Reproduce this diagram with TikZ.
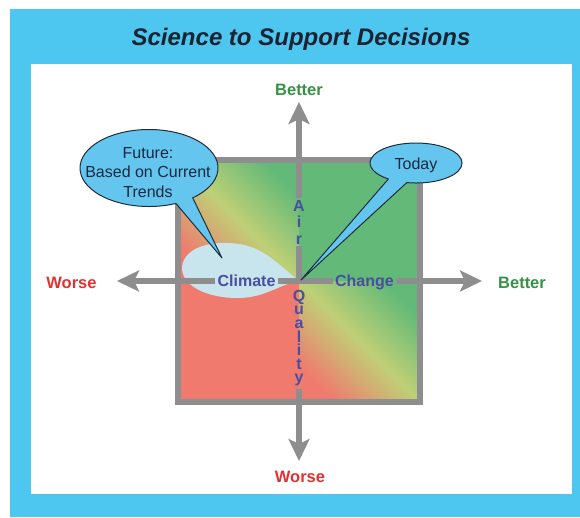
\documentclass[tikz,border=0pt]{standalone}
\usepackage{fontspec}
\setmainfont{Liberation Sans}
\usetikzlibrary{arrows.meta}
\definecolor{panelblue}{RGB}{77,199,240}
\definecolor{axisgray}{RGB}{142,142,142}
\definecolor{sqred}{RGB}{240,122,110}
\definecolor{sqgreen}{RGB}{98,185,120}
\definecolor{sqmid}{RGB}{190,208,118}
\definecolor{blobblue}{RGB}{200,228,236}
\definecolor{bubbleblue}{RGB}{100,197,238}
\definecolor{bubbleline}{RGB}{30,45,60}
\definecolor{bubtextc}{RGB}{26,40,64}
\definecolor{qblue}{RGB}{72,78,160}
\definecolor{betterc}{RGB}{55,145,70}
\definecolor{worsec}{RGB}{225,50,50}
\definecolor{titlec}{RGB}{28,34,50}
\begin{document}
\begin{tikzpicture}[x=1pt,y=-1pt,
  axisline/.style={draw=axisgray, line width=5.5pt},
  axisarrow/.style={axisline, -{Stealth[length=22pt,width=21pt,inset=5pt]}},
  htext/.style={font=\bfseries\fontsize{16}{18}\selectfont, text=qblue, inner xsep=2pt, inner ysep=0pt, text height=11.5pt, text depth=0pt},
  airstack/.style={font=\bfseries\fontsize{16}{16.5}\selectfont, text=qblue, inner sep=2pt, align=center, anchor=north},
  qualstack/.style={font=\bfseries\fontsize{16}{13.6}\selectfont, text=qblue, inner sep=2pt, align=center, anchor=north},
  dirlabel/.style={font=\bfseries\fontsize{16.5}{18}\selectfont, anchor=base, inner sep=0pt},
  bubble/.style={fill=bubbleblue, draw=bubbleline, line width=1pt, line join=round},
  bubtext/.style={font=\fontsize{16}{19.5}\selectfont, text=bubtextc, inner sep=0pt, align=center}
]
\useasboundingbox (0,0) rectangle (580,517);
\fill[white] (0,0) rectangle (580,517);
\fill[panelblue] (10,9) rectangle (580,517);
\fill[white] (31,64) rectangle (572,494);

\node[font=\bfseries\itshape\fontsize{24}{28}\selectfont, text=titlec, anchor=base, inner sep=0pt] (title) at (301,45) {Science to Support Decisions};

% square quadrants
\coordinate (O) at (299,281);
\shade[top color=sqgreen, bottom color=sqred, middle color=sqmid, shading angle=-45] (178,160) rectangle (299,281);
\fill[sqgreen] (299,160) rectangle (420,281);
\fill[sqred] (178,281) rectangle (299,402);
\shade[top color=sqgreen, bottom color=sqred, middle color=sqmid, shading angle=-45] (299,281) rectangle (420,402);
\draw[axisgray, line width=5.5pt] (178,160) rectangle (420,402);

% climate blob
\fill[blobblue] (O) .. controls (275,262) and (262,244) .. (228,243)
  .. controls (195,242) and (182,256) .. (182,268)
  .. controls (182,285) and (205,298) .. (238,298)
  .. controls (265,298) and (280,284) .. (O) -- cycle;

% axis texts
\node[htext] (climate) at (246.5,281) {Climate};
\node[htext] (change) at (364.5,281) {Change};
\node[airstack] (air) at (299,198) {A\\i\\r};
\node[qualstack] (quality) at (299,288) {Q\\u\\a\\l\\i\\t\\y};

% axis tips
\coordinate (tipT) at (299,102);
\coordinate (tipB) at (299,461);
\coordinate (tipL) at (117,281);
\coordinate (tipR) at (482,281);

\draw[axisarrow] (climate.west) -- (tipL);
\draw[axisline] (climate.east) -- (O);
\draw[axisline] (O) -- (change.west);
\draw[axisarrow] (change.east) -- (tipR);
\draw[axisarrow] (air.north) -- (tipT);
\draw[axisline] (air.south) -- (O);
\draw[axisarrow] (quality.south) -- (tipB);

% direction labels
\node[dirlabel, text=betterc] (betterT) at (299,95) {Better};
\node[dirlabel, text=worsec] (worseB) at (300,482) {Worse};
\node[dirlabel, text=worsec] (worseL) at (71.5,288) {Worse};
\node[dirlabel, text=betterc] (betterR) at (522,288) {Better};

% Future bubble
\coordinate (futtip) at (222,258);
\draw[bubble] (futtip) -- (192.7,197.8)
  arc[start angle=50.7, end angle=-293, x radius=69, y radius=38.5] -- cycle;
\node[bubtext] (future) at (148,172.5) {Future:\\Based on Current\\Trends};

% Today bubble
\draw[bubble] (O) ++(2,-1) -- (406.8,182.6)
  arc[start angle=101.6, end angle=-233, x radius=46, y radius=20] -- cycle;
\node[bubtext, anchor=base] (today) at (416,169) {Today};
\end{tikzpicture}
\end{document}
